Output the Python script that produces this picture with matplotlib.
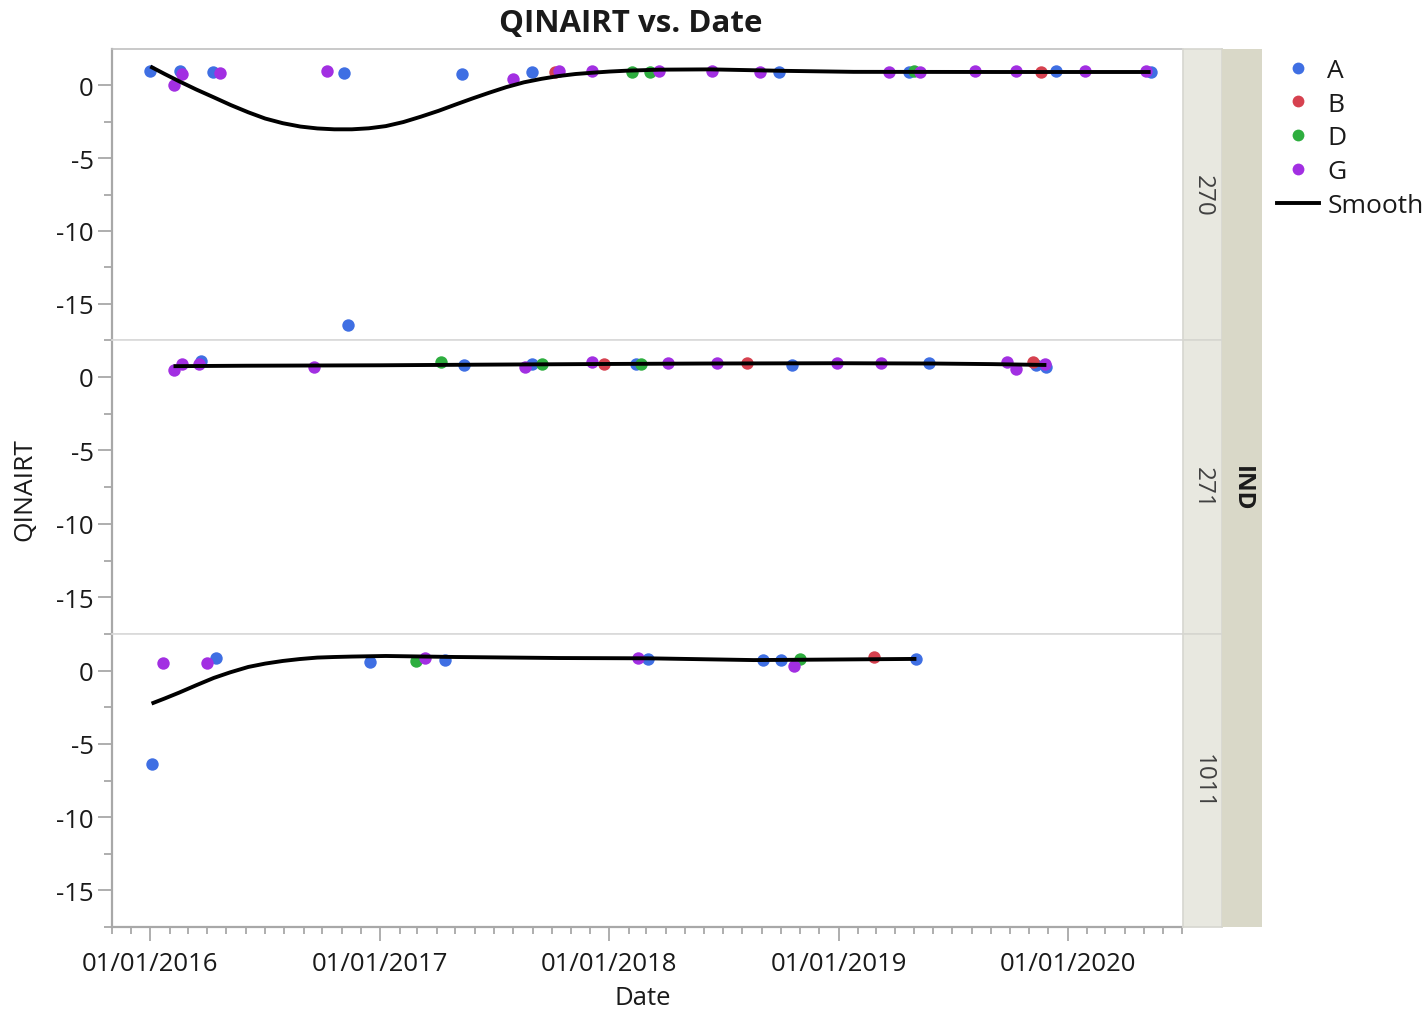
import matplotlib
matplotlib.use("Agg")
import matplotlib.pyplot as plt
import matplotlib.dates as mdates
from matplotlib.lines import Line2D
import numpy as np
import pandas as pd

plt.rcParams['font.family'] = ['Open Sans', 'DejaVu Sans']
plt.rcParams['axes.unicode_minus'] = False

# ---------------- data ----------------
groups = ['A', 'B', 'D', 'G']
group_colors = {'A': '#3F6FE3', 'B': '#D6414F', 'D': '#2EAE3F', 'G': '#A22FE2'}
panels = ['270', '271', '1011']

# IND 270
p270_dates = ['2016-01-01', '2016-02-07', '2016-02-18', '2016-02-20', '2016-04-10', '2016-04-21',
              '2016-10-09', '2016-11-05', '2016-11-11', '2017-05-11', '2017-07-31', '2017-08-31',
              '2017-10-06', '2017-10-13', '2017-12-05', '2018-02-06', '2018-03-06', '2018-03-21',
              '2018-06-13', '2018-08-29', '2018-09-28', '2019-03-22', '2019-04-24', '2019-05-01',
              '2019-05-11', '2019-08-07', '2019-10-11', '2019-11-20', '2019-12-14', '2020-01-28',
              '2020-05-04', '2020-05-12']
p270_groups = ['A', 'G', 'A', 'G', 'A', 'G',
               'G', 'A', 'A', 'A', 'G', 'A',
               'B', 'G', 'G', 'D', 'D', 'G',
               'G', 'G', 'A', 'G', 'A', 'D',
               'G', 'G', 'G', 'B', 'A', 'G',
               'G', 'A']
p270_values = [0.97, 0.05, 0.97, 0.77, 0.92, 0.87,
               0.97, 0.87, -16.5, 0.8, 0.44, 0.95,
               0.95, 1.0, 1.0, 0.95, 0.95, 0.97,
               1.0, 0.9, 0.95, 0.95, 0.95, 1.0,
               0.9, 1.0, 1.0, 0.9, 1.0, 1.0,
               0.97, 0.92]

# IND 271
p271_dates = ['2016-02-07', '2016-02-20', '2016-03-19', '2016-03-21', '2016-09-17', '2017-04-08',
              '2017-05-14', '2017-08-19', '2017-08-31', '2017-09-16', '2017-12-05', '2017-12-23',
              '2018-02-12', '2018-02-21', '2018-04-04', '2018-06-21', '2018-08-08', '2018-10-19',
              '2018-12-30', '2019-03-10', '2019-05-25', '2019-09-27', '2019-10-11', '2019-11-07',
              '2019-11-11', '2019-11-26', '2019-11-28']
p271_groups = ['G', 'G', 'G', 'A', 'G', 'D',
               'A', 'G', 'A', 'D', 'G', 'B',
               'A', 'D', 'G', 'G', 'B', 'A',
               'G', 'G', 'A', 'G', 'G', 'B',
               'A', 'G', 'A']
p271_values = [0.45, 0.85, 0.9, 1.04, 0.68, 0.97,
               0.8, 0.68, 0.9, 0.9, 0.97, 0.85,
               0.9, 0.9, 0.93, 0.93, 0.93, 0.83,
               0.93, 0.93, 0.93, 0.98, 0.54, 0.98,
               0.78, 0.88, 0.68]

# IND 1011
p1011_dates = ['2016-01-04', '2016-01-22', '2016-04-01', '2016-04-15', '2016-12-16', '2017-02-27',
               '2017-03-14', '2017-04-14', '2018-02-16', '2018-03-03', '2018-09-03', '2018-10-01',
               '2018-10-22', '2018-10-31', '2019-02-27', '2019-05-05']
p1011_groups = ['A', 'G', 'G', 'A', 'A', 'D',
                'G', 'A', 'G', 'A', 'A', 'A',
                'G', 'D', 'B', 'A']
p1011_values = [-6.4, 0.53, 0.53, 0.84, 0.56, 0.68,
                0.89, 0.70, 0.89, 0.8, 0.75, 0.75,
                0.3, 0.8, 0.92, 0.8]

# Smoother curves
s270_dates = ['2016-01-01', '2016-01-24', '2016-02-16', '2016-03-14', '2016-04-11', '2016-05-08',
              '2016-06-05', '2016-07-02', '2016-07-30', '2016-08-27', '2016-09-23', '2016-10-20',
              '2016-11-17', '2016-12-14', '2017-01-10', '2017-02-07', '2017-03-07', '2017-04-04',
              '2017-05-01', '2017-05-28', '2017-06-24', '2017-07-21', '2017-08-18', '2017-09-15',
              '2017-10-12', '2017-11-08', '2017-12-05', '2018-01-01', '2018-01-29', '2018-03-22',
              '2018-06-11', '2018-10-04', '2019-01-25', '2019-09-14', '2020-05-12']
s270_values = [1.3, 0.78, 0.28, -0.28, -0.82, -1.35,
               -1.85, -2.28, -2.6, -2.83, -2.96, -3.02,
               -3.02, -2.95, -2.8, -2.52, -2.15, -1.75,
               -1.32, -0.9, -0.5, -0.12, 0.21, 0.45,
               0.64, 0.78, 0.87, 0.95, 1.01, 1.08,
               1.1, 1.0, 0.93, 0.92, 0.92]

s271_dates = ['2016-02-07', '2016-06-01', '2017-01-01', '2017-06-01', '2018-01-01', '2018-06-01',
              '2019-01-01', '2019-06-01', '2019-09-01', '2019-11-28']
s271_values = [0.72, 0.75, 0.78, 0.82, 0.87, 0.9, 0.92, 0.9, 0.86, 0.8]

s1011_dates = ['2016-01-03', '2016-01-24', '2016-02-16', '2016-03-14', '2016-04-11', '2016-05-07',
               '2016-06-05', '2016-07-02', '2016-07-30', '2016-08-26', '2016-09-23', '2016-10-20',
               '2016-11-17', '2017-01-10', '2017-05-01', '2017-10-12', '2018-03-04', '2018-08-19',
               '2018-11-29', '2019-05-05']
s1011_values = [-2.25, -1.9, -1.5, -1.0, -0.5, -0.12,
                0.25, 0.48, 0.66, 0.79, 0.89, 0.93,
                0.96, 1.0, 0.93, 0.86, 0.84, 0.72,
                0.75, 0.8]

panel_data = {
    '270': (p270_dates, p270_groups, p270_values, s270_dates, s270_values),
    '271': (p271_dates, p271_groups, p271_values, s271_dates, s271_values),
    '1011': (p1011_dates, p1011_groups, p1011_values, s1011_dates, s1011_values),
}

y_ticks = [0, -5, -10, -15]
y_minor_ticks = [-2.5, -7.5, -12.5, -17.5]

# ---------------- layout ----------------
W, H = 1423, 1012
fig = plt.figure(figsize=(W / 100, H / 100), dpi=100)

def fx(px):
    return px / W

def fy(py):
    return 1 - py / H

panel_px = [(50, 341), (341, 635), (635, 928)]
left_px, right_px = 112, 1182
xlim = (pd.Timestamp('2015-11-01'), pd.Timestamp('2020-07-01'))
TXT = '#1A1A1A'
AXC = '#A8A8A8'
FS = 18.5

axes = []
for i, name in enumerate(panels):
    top, bot = panel_px[i]
    ax = fig.add_axes([fx(left_px), fy(bot), fx(right_px) - fx(left_px), fy(top) - fy(bot)])
    axes.append(ax)
    d, g, v, sd, sv = panel_data[name]
    d = pd.to_datetime(d)
    g = np.array(g)
    v = np.array(v)
    for grp in groups:
        m = g == grp
        ax.scatter(d[m], v[m], s=80, color=group_colors[grp], linewidths=0, zorder=3)
    ax.plot(pd.to_datetime(sd), sv, color='black', lw=2.8, zorder=4, solid_capstyle='butt',
            solid_joinstyle='round')
    ax.set_ylim(-17.5, 2.5)
    ax.set_xlim(*xlim)
    ax.set_yticks(y_ticks)
    ax.set_yticks(y_minor_ticks, minor=True)
    ax.tick_params(axis='y', which='major', length=10, width=1.3, color=AXC,
                   labelsize=FS, labelcolor=TXT, pad=3)
    ax.tick_params(axis='y', which='minor', length=5.5, width=1.3, color=AXC)
    ax.xaxis.set_major_locator(mdates.YearLocator())
    ax.xaxis.set_minor_locator(mdates.MonthLocator())
    ax.xaxis.set_major_formatter(mdates.DateFormatter('%m/%d/%Y'))
    for sp in ['top', 'bottom']:
        ax.spines[sp].set_color('#D9D9D9')
        ax.spines[sp].set_linewidth(1.2)
    ax.spines['left'].set_color(AXC)
    ax.spines['left'].set_linewidth(1.6)
    ax.spines['right'].set_visible(False)
    if i < 2:
        ax.tick_params(axis='x', which='both', bottom=False, labelbottom=False)
    else:
        ax.spines['bottom'].set_color(AXC)
        ax.spines['bottom'].set_linewidth(1.6)
        ax.tick_params(axis='x', which='major', length=10, width=1.3, color=AXC,
                       labelsize=FS, labelcolor=TXT, pad=7)
        ax.tick_params(axis='x', which='minor', length=5, width=1.3, color=AXC)
    if i == 0:
        ax.spines['top'].set_color('#C0C0C0')

# inner strips
for i, name in enumerate(panels):
    top, bot = panel_px[i]
    sax = fig.add_axes([fx(1183), fy(bot), fx(1222) - fx(1183), fy(top) - fy(bot)])
    sax.set_facecolor('#E8E8E0')
    sax.set_xticks([])
    sax.set_yticks([])
    for sp in sax.spines.values():
        sp.set_color('#D6D6D0')
        sp.set_linewidth(1.2)
    sax.text(0.5, 0.5, name, rotation=-90, ha='center', va='center', fontsize=17.5,
             color='#404040', transform=sax.transAxes)

# outer strip
oax = fig.add_axes([fx(1222), fy(928), fx(1262) - fx(1222), fy(50) - fy(928)])
oax.set_facecolor('#D9D8C8')
oax.set_xticks([])
oax.set_yticks([])
for sp in oax.spines.values():
    sp.set_visible(False)
oax.text(0.5, 0.5, 'IND', rotation=-90, ha='center', va='center', fontsize=17.5,
         fontweight='bold', color=TXT, transform=oax.transAxes)

# titles and labels
fig.text(fx(631), fy(24), 'QINAIRT vs. Date', ha='center', va='center', fontsize=22.5,
         fontweight='bold', color=TXT)
fig.text(fx(25), fy(490), 'QINAIRT', rotation=90, ha='center', va='center', fontsize=19,
         color=TXT)
fig.text(fx(643), fy(999), 'Date', ha='center', va='center', fontsize=18.5, color=TXT)

# legend
handles = [Line2D([], [], ls='none', marker='o', markersize=8.5, markerfacecolor=group_colors[g_],
                  markeredgewidth=0) for g_ in groups]
handles.append(Line2D([], [], color='black', lw=2.8))
labels = groups + ['Smooth']
fig.legend(handles, labels, loc='upper left', bbox_to_anchor=(fx(1277), fy(59)),
           frameon=False, fontsize=19, handlelength=1.6, handletextpad=0.3,
           labelspacing=0.33, borderaxespad=0, borderpad=0, labelcolor=TXT)

fig.savefig('out.png', dpi=100)
